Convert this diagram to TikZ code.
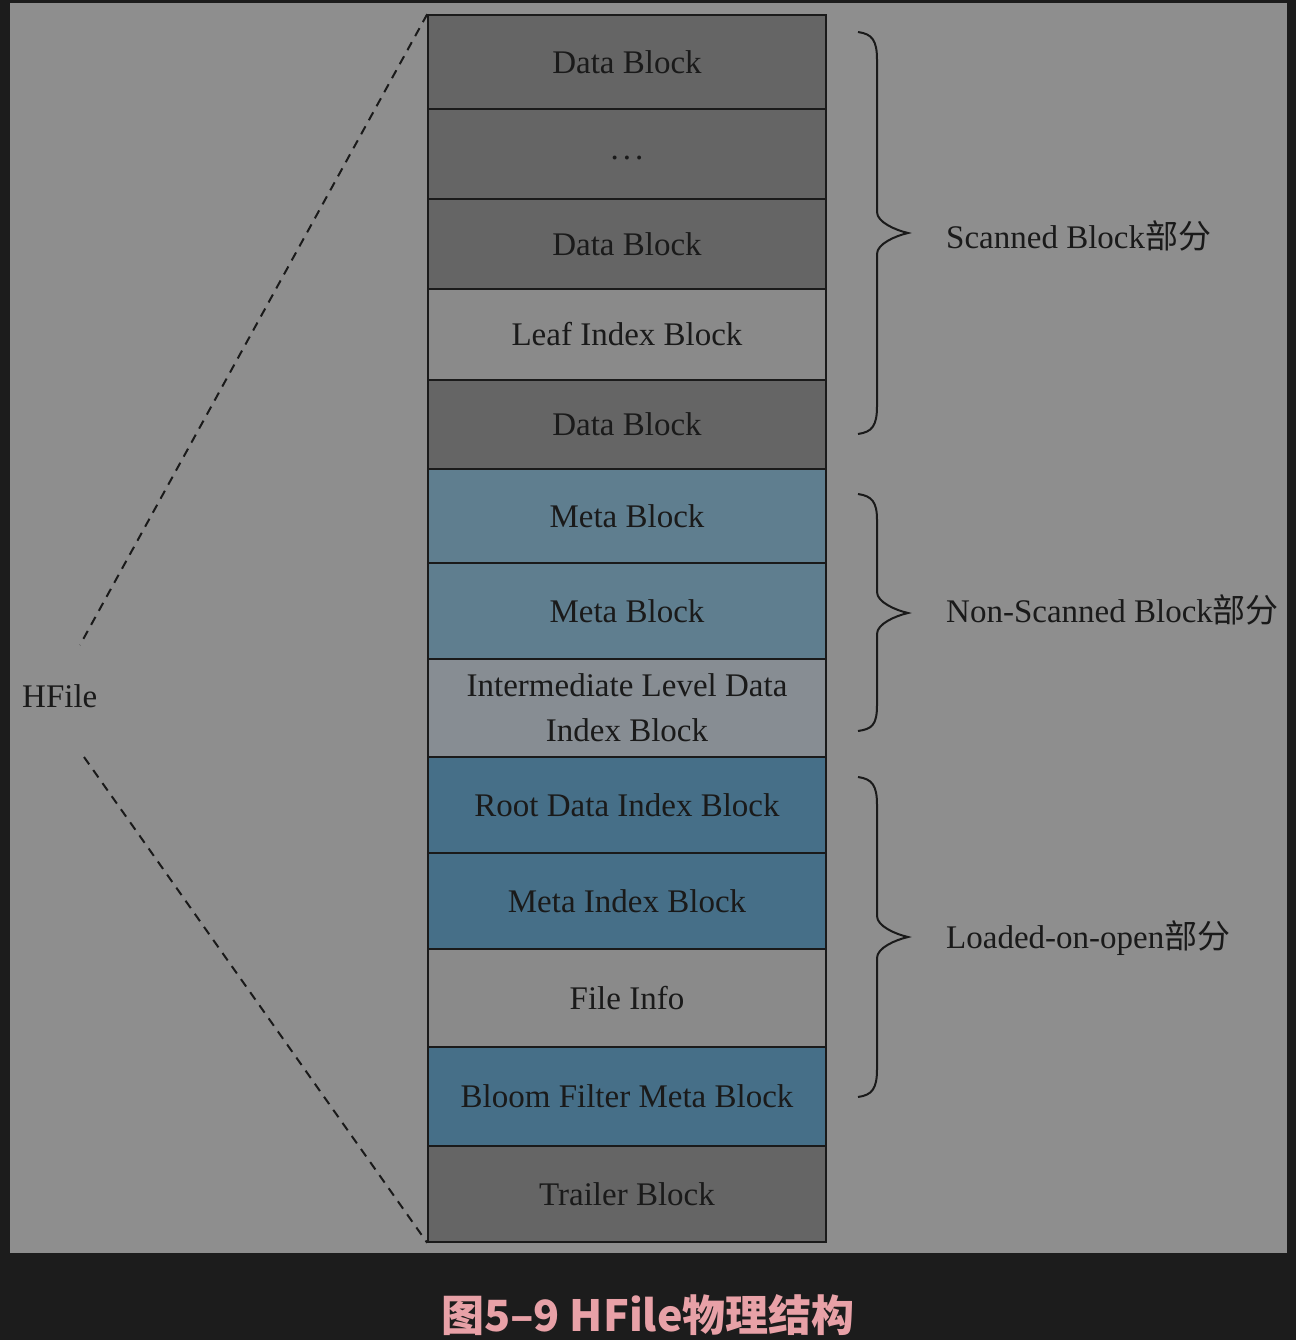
\documentclass[tikz,border=0pt]{standalone}
\usepackage{fontspec}
\setmainfont{Liberation Serif}
\newfontfamily\cjk{Noto Sans CJK SC}
\definecolor{bgdark}{HTML}{1C1C1C}
\definecolor{panel}{HTML}{8E8E8E}
\definecolor{darkblk}{HTML}{656565}
\definecolor{lightblk}{HTML}{8A8A8A}
\definecolor{metablk}{HTML}{5F7E8F}
\definecolor{midblk}{HTML}{878D93}
\definecolor{blueblk}{HTML}{466F88}
\definecolor{inkc}{HTML}{1A1A1A}
\definecolor{capc}{HTML}{E8A1A7}
\tikzset{
  rowbox/.style={draw=inkc, line width=1.6pt, minimum width=398pt, inner sep=0pt,
    text=inkc, font=\fontsize{33}{45}\selectfont, align=center},
  lbl/.style={text=inkc, font=\fontsize{33}{40}\selectfont, anchor=west, inner sep=0pt},
  bracep/.style={draw=inkc, line width=2pt},
  dashl/.style={draw=inkc, line width=2pt, dash pattern=on 9pt off 7pt}
}
\begin{document}
\begin{tikzpicture}[x=1pt,y=-1pt]
\fill[bgdark] (0,0) rectangle (1296,1340);
\useasboundingbox (0,0) rectangle (1296,1340);
\fill[panel] (10,3) rectangle (1287,1253);

\node[rowbox, fill=darkblk, minimum height=94pt] (r1) at (627,62) {Data Block};
\node[rowbox, fill=darkblk, minimum height=90pt] (r2) at (627,154) {\raisebox{-12pt}{.\hspace{4pt}.\hspace{4pt}.}};
\node[rowbox, fill=darkblk, minimum height=90pt] (r3) at (627,244) {Data Block};
\node[rowbox, fill=lightblk, minimum height=91pt] (r4) at (627,334.5) {Leaf Index Block};
\node[rowbox, fill=darkblk, minimum height=89pt] (r5) at (627,424.5) {Data Block};
\node[rowbox, fill=metablk, minimum height=94pt] (r6) at (627,516) {Meta Block};
\node[rowbox, fill=metablk, minimum height=96pt] (r7) at (627,611) {Meta Block};
\node[rowbox, fill=midblk, minimum height=98pt] (r8) at (627,708) {Intermediate Level Data\\Index Block};
\node[rowbox, fill=blueblk, minimum height=96pt] (r9) at (627,805) {Root Data Index Block};
\node[rowbox, fill=blueblk, minimum height=96pt] (r10) at (627,901) {Meta Index Block};
\node[rowbox, fill=lightblk, minimum height=98pt] (r11) at (627,998) {File Info};
\node[rowbox, fill=blueblk, minimum height=99pt] (r12) at (627,1096.5) {Bloom Filter Meta Block};
\node[rowbox, fill=darkblk, minimum height=96pt] (r13) at (627,1194) {Trailer Block};

\node[lbl] (hf) at (22,696) {HFile};
\coordinate (dtop) at (80,645);
\coordinate (dbot) at (84,757);
\draw[dashl] (r1.north west) -- (dtop);
\draw[dashl] (dbot) -- (r13.south west);

% braces
\draw[bracep] (858,32) .. controls (872,34) and (877,40) .. (877,60) -- (877,212)
  .. controls (877,222) and (895,230) .. (908,233)
  .. controls (895,236) and (877,244) .. (877,254) -- (877,406)
  .. controls (877,426) and (872,432) .. (858,434);
\draw[bracep] (858,494) .. controls (872,496) and (877,502) .. (877,520) -- (877,592)
  .. controls (877,602) and (895,610) .. (908,613)
  .. controls (895,616) and (877,624) .. (877,634) -- (877,705)
  .. controls (877,725) and (872,729) .. (858,731);
\draw[bracep] (858,777) .. controls (872,779) and (877,785) .. (877,805) -- (877,916)
  .. controls (877,926) and (895,934) .. (908,937)
  .. controls (895,940) and (877,948) .. (877,958) -- (877,1069)
  .. controls (877,1089) and (872,1095) .. (858,1097);

\node[lbl] (l1) at (946,236) {Scanned Block{\cjk 部分}};
\node[lbl] (l2) at (946,610) {Non-Scanned Block{\cjk 部分}};
\node[lbl] (l3) at (946,938) {Loaded-on-open{\cjk 部分}};

\node[text=capc, font=\cjk\bfseries\fontsize{43}{50}\selectfont, inner sep=0pt] (cap) at (648,1315) {图5–9 HFile物理结构};
\end{tikzpicture}
\end{document}
